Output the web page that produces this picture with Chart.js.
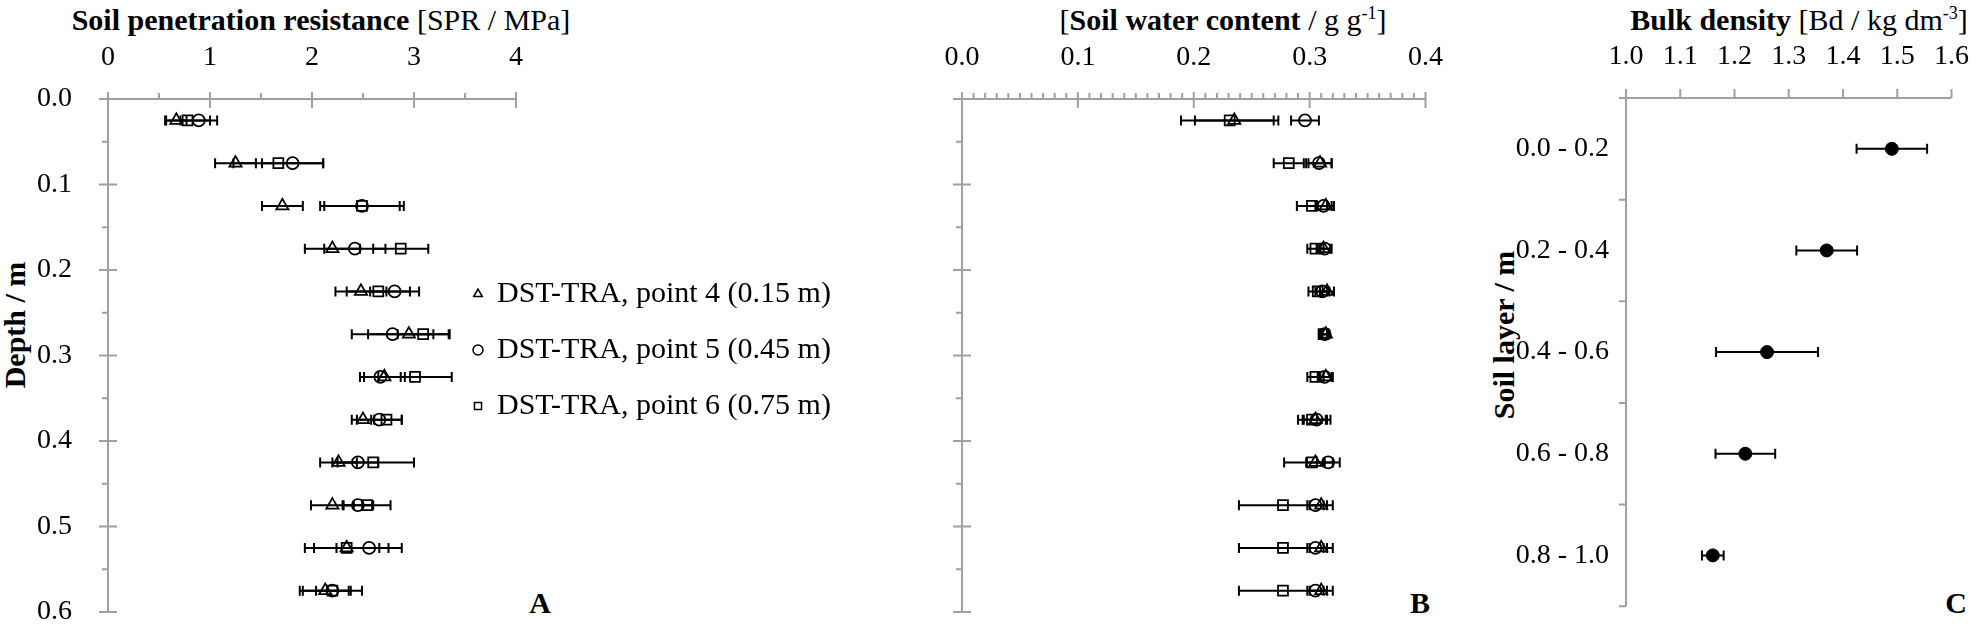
<!DOCTYPE html>
<html>
<head>
<meta charset="utf-8">
<script src="https://cdn.jsdelivr.net/npm/chart.js@4.4.1/dist/chart.umd.min.js"></script>
<style>
  body { margin: 0; background: #fff; width: 1986px; height: 632px; overflow: hidden; position: relative;
         font-family: "Liberation Serif", "Times New Roman", serif; color: #000; }
  canvas { position: absolute; top: 0; }
  .t { position: absolute; font-size: 30px; white-space: nowrap; transform: translate(-50%, -50%); }
  .v { position: absolute; font-size: 30px; font-weight: bold; white-space: nowrap; transform: translate(-50%, -50%) rotate(-90deg); }
  .p { position: absolute; font-size: 30px; font-weight: bold; transform: translate(-50%, -50%); }
  sup { font-size: 18px; vertical-align: 0; position: relative; top: -11px; }
</style>
</head>
<body>
<div class="t" style="left:321px;top:20px"><b>Soil penetration resistance</b> [SPR / MPa]</div>
<div class="t" style="left:1223px;top:20px">[<b>Soil water content</b> / g g<sup>-1</sup>]</div>
<div class="t" style="left:1799px;top:20px"><b>Bulk density</b> [Bd / kg dm<sup>-3</sup>]</div>
<div class="v" style="left:15px;top:325px">Depth / m</div>
<div class="v" style="left:1504px;top:335px">Soil layer / m</div>
<div class="p" style="left:540px;top:603px">A</div>
<div class="p" style="left:1420px;top:603px">B</div>
<div class="p" style="left:1956px;top:603px">C</div>

<canvas id="chartA" width="900" height="632" style="left:0px"></canvas>
<canvas id="chartB" width="560" height="632" style="left:900px"></canvas>
<canvas id="chartC" width="526" height="632" style="left:1460px"></canvas>

<script>
// depth of the measurement rows (m)
const depth = [0.025, 0.075, 0.125, 0.175, 0.225, 0.275, 0.325, 0.375, 0.425, 0.475, 0.525, 0.575];

// A - soil penetration resistance (MPa)
const sprPoint4 = [0.67, 1.25, 1.71, 2.20, 2.48, 2.95, 2.71, 2.50, 2.26, 2.20, 2.34, 2.13];
const sprPoint4Err = [0.10, 0.20, 0.20, 0.27, 0.25, 0.40, 0.20, 0.11, 0.18, 0.21, 0.41, 0.25];
const sprPoint5 = [0.89, 1.81, 2.49, 2.42, 2.81, 2.79, 2.67, 2.66, 2.45, 2.45, 2.56, 2.20];
const sprPoint5Err = [0.18, 0.30, 0.37, 0.30, 0.24, 0.40, 0.20, 0.22, 0.20, 0.15, 0.32, 0.16];
const sprPoint6 = [0.78, 1.67, 2.49, 2.87, 2.65, 3.09, 3.01, 2.73, 2.60, 2.54, 2.34, 2.20];
const sprPoint6Err = [0.22, 0.44, 0.41, 0.27, 0.31, 0.25, 0.36, 0.15, 0.40, 0.23, 0.32, 0.29];

// B - soil water content (g/g)
const swcPoint4 = [0.235, 0.309, 0.314, 0.312, 0.315, 0.314, 0.314, 0.305, 0.305, 0.310, 0.310, 0.310];
const swcPoint4Err = [0.034, 0.010, 0.007, 0.006, 0.006, 0.003, 0.006, 0.010, 0.008, 0.010, 0.010, 0.010];
const swcPoint5 = [0.296, 0.308, 0.312, 0.313, 0.311, 0.313, 0.313, 0.306, 0.316, 0.305, 0.305, 0.305];
const swcPoint5Err = [0.012, 0.011, 0.007, 0.006, 0.006, 0.003, 0.006, 0.012, 0.004, 0.007, 0.007, 0.007];
const swcPoint6 = [0.231, 0.282, 0.302, 0.305, 0.307, 0.312, 0.305, 0.302, 0.302, 0.277, 0.277, 0.277];
const swcPoint6Err = [0.042, 0.013, 0.013, 0.007, 0.008, 0.003, 0.007, 0.012, 0.024, 0.038, 0.038, 0.038];

// C - bulk density (kg/dm3)
const layers = ['0.0 - 0.2', '0.2 - 0.4', '0.4 - 0.6', '0.6 - 0.8', '0.8 - 1.0'];
const bulkDensity = [1.49, 1.37, 1.26, 1.22, 1.16];
const bulkDensityErr = [0.065, 0.056, 0.094, 0.055, 0.02];

const seriesNames = ['DST-TRA, point 4 (0.15 m)', 'DST-TRA, point 5 (0.45 m)', 'DST-TRA, point 6 (0.75 m)'];

const FONT = '"Liberation Serif", "Times New Roman", serif';
const AXIS_GREY = '#a0a0a0';
const TICK_SIZE = 28;

function toPoints(values) {
    return values.map((v, i) => ({ x: v, y: depth[i] }));
}

// horizontal error bars, drawn under the markers
const errorBars = {
    id: 'errorBars',
    beforeDatasetsDraw(chart) {
        const ctx = chart.ctx;
        const x = chart.scales.x;
        ctx.save();
        ctx.strokeStyle = '#000';
        ctx.lineWidth = 2;
        chart.data.datasets.forEach((ds, di) => {
            if (!ds.errors) return;
            const meta = chart.getDatasetMeta(di);
            ds.data.forEach((p, i) => {
                const yp = meta.data[i].y;
                const x0 = x.getPixelForValue(p.x - ds.errors[i]);
                const x1 = x.getPixelForValue(p.x + ds.errors[i]);
                ctx.beginPath();
                ctx.moveTo(x0, yp); ctx.lineTo(x1, yp);
                ctx.moveTo(x0, yp - 5); ctx.lineTo(x0, yp + 5);
                ctx.moveTo(x1, yp - 5); ctx.lineTo(x1, yp + 5);
                ctx.stroke();
            });
        });
        ctx.restore();
    }
};

// axis lines with excel-like major (cross) and minor (outside) tick marks
const axisMarks = {
    id: 'axisMarks',
    beforeDatasetsDraw(chart, args, o) {
        const ctx = chart.ctx;
        const a = chart.chartArea;
        const { x, y } = chart.scales;
        ctx.save();
        ctx.strokeStyle = AXIS_GREY;
        ctx.lineWidth = 2;
        ctx.beginPath();
        ctx.moveTo(a.left, a.top); ctx.lineTo(a.right, a.top);
        ctx.moveTo(a.left, a.top); ctx.lineTo(a.left, a.bottom);

        let n = Math.round((x.max - x.min) / o.xMinor);
        for (let i = 0; i <= n; i++) {
            const px = x.getPixelForValue(x.min + i * o.xMinor);
            if (i % o.xEvery === 0) {
                ctx.moveTo(px, a.top - o.majorOut); ctx.lineTo(px, a.top + o.majorIn);
            } else {
                ctx.moveTo(px, a.top - o.minorOut); ctx.lineTo(px, a.top);
            }
        }

        if (y.type === 'category') {
            const band = y.getPixelForValue(1) - y.getPixelForValue(0);
            for (let k = 0; k <= y.getLabels().length; k++) {
                const py = y.getPixelForValue(0) - band / 2 + k * band;
                ctx.moveTo(a.left - o.yOut, py); ctx.lineTo(a.left, py);
            }
        } else {
            n = Math.round((y.max - y.min) / o.yMinor);
            for (let i = 0; i <= n; i++) {
                const py = y.getPixelForValue(y.min + i * o.yMinor);
                if (i % o.yEvery === 0) {
                    ctx.moveTo(a.left - o.majorIn, py); ctx.lineTo(a.left + o.majorIn, py);
                } else {
                    ctx.moveTo(a.left - o.minorOut, py); ctx.lineTo(a.left, py);
                }
            }
        }
        ctx.stroke();
        ctx.restore();
    }
};

// legend to the right of the data in panel A
const sideLegend = {
    id: 'sideLegend',
    afterDraw(chart, args, o) {
        const ctx = chart.ctx;
        ctx.save();
        chart.data.datasets.forEach((ds, i) => {
            const yy = o.top + i * o.gap;
            ctx.strokeStyle = '#000';
            ctx.fillStyle = 'rgba(0,0,0,0)';
            ctx.lineWidth = 1.5;
            Chart.helpers.drawPoint(ctx, { pointStyle: ds.pointStyle, radius: o.radius, rotation: 0, borderWidth: 1.5 }, o.x, yy);
            ctx.fillStyle = '#000';
            ctx.font = o.size + 'px ' + FONT;
            ctx.textBaseline = 'middle';
            ctx.fillText(ds.label, o.x + o.textGap, yy);
        });
        ctx.restore();
    }
};

function openSeries(label, style, values, errors) {
    return {
        label: label,
        data: toPoints(values),
        errors: errors,
        pointStyle: style,
        pointRadius: style === 'circle' ? 6 : 7,
        borderColor: '#000',
        backgroundColor: 'rgba(0,0,0,0)',
        pointBorderWidth: 1.8,
        showLine: false
    };
}

function depthOptions(xMin, xMax, xStep, xDigits, yAxisWidth, showDepthTicks, marks, extra) {
    return {
        responsive: false,
        animation: false,
        events: [],
        layout: { padding: { left: 0, top: 0, right: 20, bottom: 20 } },
        plugins: Object.assign({ legend: { display: false }, tooltip: { enabled: false }, axisMarks: marks }, extra),
        scales: {
            x: {
                type: 'linear', position: 'top', min: xMin, max: xMax,
                grid: { display: false }, border: { display: false },
                ticks: { stepSize: xStep, padding: 17, color: '#000', font: { family: FONT, size: TICK_SIZE },
                         callback: v => v.toFixed(xDigits) },
                afterFit(s) { s.height = 99; }
            },
            y: {
                type: 'linear', reverse: true, min: 0, max: 0.6,
                grid: { display: false }, border: { display: false },
                ticks: { display: showDepthTicks, stepSize: 0.1, padding: 28, color: '#000',
                         font: { family: FONT, size: TICK_SIZE }, callback: v => v.toFixed(1) },
                afterFit(s) { s.width = yAxisWidth; s.paddingTop = 0; s.paddingBottom = 0; }
            }
        }
    };
}

new Chart(document.getElementById('chartA'), {
    type: 'scatter',
    data: {
        datasets: [
            openSeries(seriesNames[0], 'triangle', sprPoint4, sprPoint4Err),
            openSeries(seriesNames[1], 'circle', sprPoint5, sprPoint5Err),
            openSeries(seriesNames[2], 'rect', sprPoint6, sprPoint6Err)
        ]
    },
    options: (() => {
        const opt = depthOptions(0, 4, 1, 0, 108, true,
            { xMinor: 0.5, xEvery: 2, majorOut: 7, majorIn: 9, minorOut: 6, yMinor: 0.05, yEvery: 2 },
            { sideLegend: { x: 478, top: 294, gap: 56, radius: 5, textGap: 19, size: 30 } });
        opt.layout.padding.right = 384;
        return opt;
    })(),
    plugins: [axisMarks, errorBars, sideLegend]
});

new Chart(document.getElementById('chartB'), {
    type: 'scatter',
    data: {
        datasets: [
            openSeries(seriesNames[0], 'triangle', swcPoint4, swcPoint4Err),
            openSeries(seriesNames[1], 'circle', swcPoint5, swcPoint5Err),
            openSeries(seriesNames[2], 'rect', swcPoint6, swcPoint6Err)
        ]
    },
    options: depthOptions(0, 0.4, 0.1, 1, 62, false,
        { xMinor: 0.01, xEvery: 10, majorOut: 7, majorIn: 9, minorOut: 6, yMinor: 0.05, yEvery: 2 }, {}),
    plugins: [axisMarks, errorBars]
});

new Chart(document.getElementById('chartC'), {
    type: 'scatter',
    data: {
        datasets: [{
            label: 'Bulk density',
            data: bulkDensity.map((v, i) => ({ x: v, y: layers[i] })),
            errors: bulkDensityErr,
            pointStyle: 'circle',
            pointRadius: 6.5,
            backgroundColor: '#000',
            borderColor: '#000',
            showLine: false
        }]
    },
    options: {
        responsive: false,
        animation: false,
        events: [],
        layout: { padding: { left: 0, top: 0, right: 21, bottom: 24 } },
        plugins: {
            legend: { display: false }, tooltip: { enabled: false },
            axisMarks: { xMinor: 0.1, xEvery: 1, majorOut: 9, majorIn: 0, minorOut: 0, yOut: 7 }
        },
        scales: {
            x: {
                type: 'linear', position: 'top', min: 1.0, max: 1.6,
                grid: { display: false }, border: { display: false },
                ticks: { stepSize: 0.1, padding: 17, color: '#000', font: { family: FONT, size: TICK_SIZE },
                         callback: v => v.toFixed(1) },
                afterFit(s) { s.height = 98; }
            },
            y: {
                type: 'category', labels: layers, offset: true,
                grid: { display: false }, border: { display: false },
                ticks: { padding: 9, color: '#000', font: { family: FONT, size: TICK_SIZE } },
                afterFit(s) { s.width = 166; }
            }
        }
    },
    plugins: [axisMarks, errorBars]
});
</script>
</body>
</html>
